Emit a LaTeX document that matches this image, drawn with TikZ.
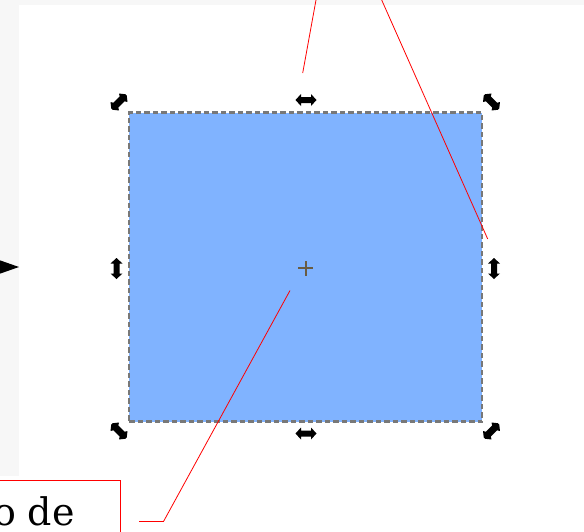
\documentclass[tikz,border=0pt]{standalone}
\usepackage{fontspec}
\newfontfamily\dejaserif{DejaVu Serif}
\definecolor{panelgray}{RGB}{247,247,247}
\definecolor{fillblue}{RGB}{128,179,255}
\definecolor{bordergray}{RGB}{120,120,120}
\definecolor{crossbrown}{RGB}{105,92,66}
\begin{document}
\begin{tikzpicture}[x=1pt,y=-1pt,
  handle/.pic={\fill[black] (-10.5,0) -- (-5,-6) -- (-5,-3) -- (5,-3) -- (5,-6) -- (10.5,0) -- (5,6) -- (5,3) -- (-5,3) -- (-5,6) -- cycle;},
  rothandle/.pic={\fill[black] (-10,-1) -- (-6,-6) -- (-4.5,-3.5) -- (4.5,-3.5) -- (6,-6) -- (10,-1) -- (10,1) -- (6,6) -- (4.5,3.5) -- (-4.5,3.5) -- (-6,6) -- (-10,1) -- cycle;},
  callout/.style={draw=red, line width=0.8pt},
  selrect/.style={draw=bordergray, fill=fillblue, line width=2.2pt, dash pattern=on 5.5pt off 3pt, inner sep=0pt, outer sep=0pt},
  labelbox/.style={draw=red, fill=white, line width=1pt}
]
\clip (0,0) rectangle (584,531);
\useasboundingbox (0,0) rectangle (584,531);
% background
\fill[panelgray] (0,0) rectangle (584,531);
\fill[white] (19,5) rectangle (584,531);
\fill[white] (0,476) rectangle (19,531);
% selected rectangle
\node[selrect, minimum width=353pt, minimum height=309pt] (rect) at (305.5,267) {};
% centre cross
\coordinate (centre) at (305.5,268);
\draw[crossbrown, line width=2pt] ([xshift=-7.5pt]centre) -- ([xshift=7.5pt]centre);
\draw[crossbrown, line width=2pt] ([yshift=-7.5pt]centre) -- ([yshift=7.5pt]centre);
% handles
\pic[rotate=45] (htl) at (119,102) {rothandle};
\pic[rotate=-45] (htr) at (491.5,102) {rothandle};
\pic[rotate=45] (hbr) at (491.5,431) {rothandle};
\pic[rotate=-45] (hbl) at (119,431) {rothandle};
\pic (htm) at (306,100) {handle};
\pic (hbm) at (306,433.5) {handle};
\pic[rotate=90] (hlm) at (116.5,268.5) {handle};
\pic[rotate=90] (hrm) at (494,268.5) {handle};
% arrow tip at left
\fill[black] (-1,260) -- (19,267) -- (-1,274) -- cycle;
% label box
\draw[labelbox] (-40,480.5) rectangle (120,560);
\node[font=\dejaserif\fontsize{38}{40}\selectfont, anchor=base east, inner sep=0pt] (label) at (75,525) {o de};
% callout lines
\coordinate (a1) at (302.7,73);
\coordinate (a1out) at (316,0);
\coordinate (a2) at (487.7,239);
\coordinate (a2out) at (381.7,0);
\coordinate (a3) at (290,290.5);
\coordinate (a3k) at (163.5,521.5);
\coordinate (a3e) at (139,521.5);
\draw[callout] (a1) -- (a1out);
\draw[callout] (a2) -- (a2out);
\draw[callout] (a3) -- (a3k) -- (a3e);
\end{tikzpicture}
\end{document}
